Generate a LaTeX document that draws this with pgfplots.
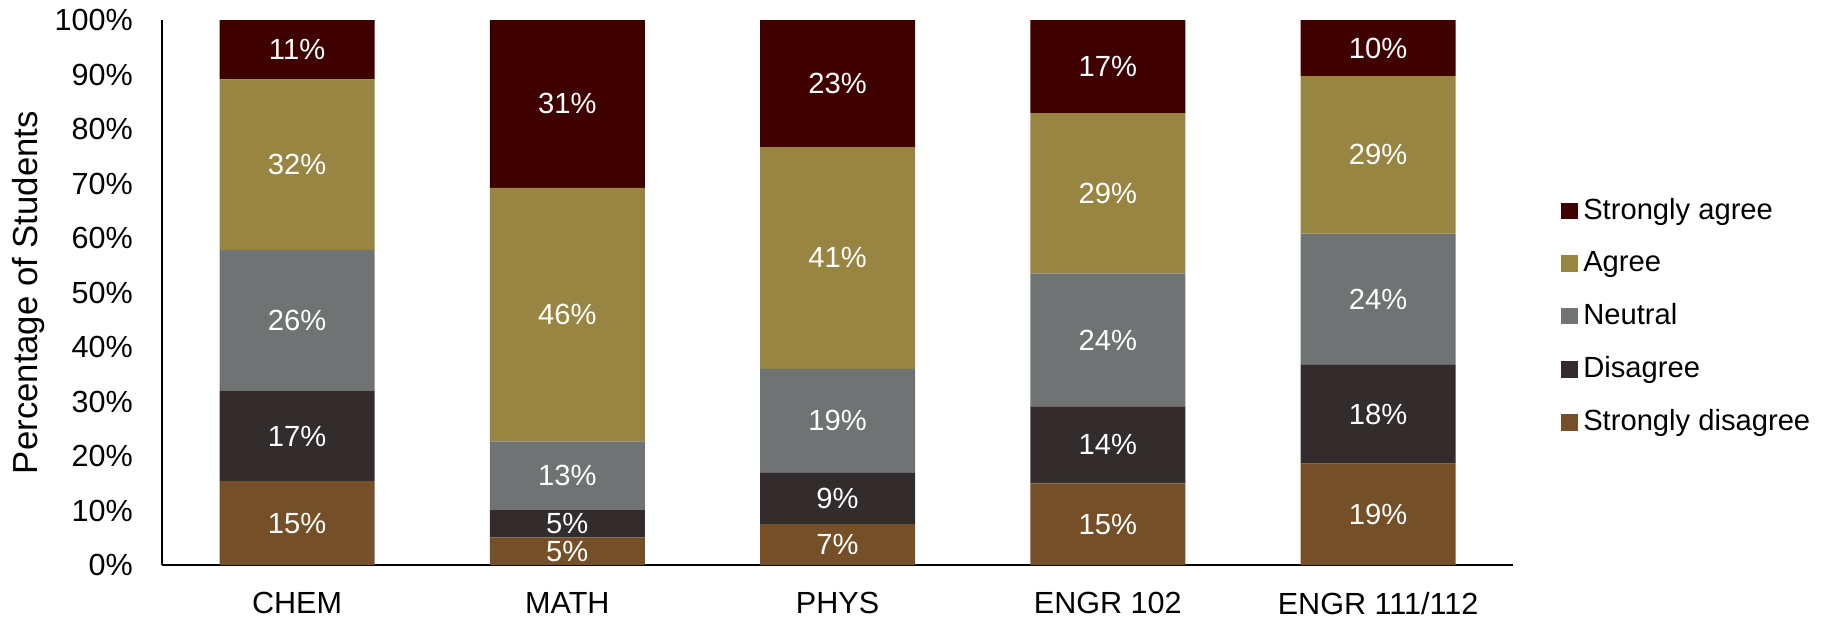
\documentclass[border=0pt]{standalone}
\usepackage{fontspec}
\setmainfont{Liberation Sans}
\usepackage{pgfplots}
\usepackage{pgfplotstable}
\pgfplotsset{compat=1.18}

\definecolor{sagree}{HTML}{3F0000}
\definecolor{agree}{HTML}{998542}
\definecolor{neutral}{HTML}{707373}
\definecolor{disagree}{HTML}{332C2C}
\definecolor{sdisagree}{HTML}{744F28}

% segment heights (percent) and the rounded labels
\pgfplotstableread{
x sd   sdl d    dl n    nl a    al sa   sal
0 15.4 15  16.5 17 25.9 26 31.3 32 10.9 11
1 5.1  5   5.0  5  12.6 13 46.5 46 30.8 31
2 7.5  7   9.4  9  19.1 19 40.7 41 23.3 23
3 15.0 15  14.1 14 24.4 24 29.4 29 17.1 17
4 18.6 19  18.2 18 24.0 24 28.9 29 10.3 10
}\survey

\pgfplotsset{
  seg/.style={fill=#1, draw=none},
}

\begin{document}
\begin{tikzpicture}
\begin{axis}[
    at={(0,0)}, anchor=south west,
    scale only axis,
    width=486.4pt, height=196.2pt,
    ybar stacked,
    bar width=55.8pt,
    xmin=-0.5, xmax=4.5,
    ymin=0, ymax=100,
    axis x line*=bottom,
    axis y line*=left,
    axis line style={line width=0.8pt, -},
    major tick length=0pt,
    xtick=data,
    xticklabels={CHEM, MATH, PHYS, ENGR 102, ENGR 111/112},
    ytick={0,10,...,100},
    yticklabel={\pgfmathprintnumber{\tick}\%},
    /pgf/number format/assume math mode=true,
    ticklabel style={font=\fontsize{11}{13}\selectfont},
    yticklabel style={xshift=-7pt},
    xticklabel style={yshift=-6.3pt},
    ylabel={Percentage of Students},
    every axis y label/.style={at={(axis description cs:-0.099,0.5)}, rotate=90, anchor=center,
        font=\fontsize{12.5}{15}\selectfont},
    point meta=explicit symbolic,
    nodes near coords={\pgfplotspointmeta\%},
    every node near coord/.append style={anchor=center, text=white,
        font=\fontsize{10.5}{12}\selectfont},
    reverse legend,
    legend cell align=left,
    legend style={at={(axis description cs:1.035,0.684)}, anchor=north west, draw=none,
        font=\fontsize{10.5}{12}\selectfont, row sep=6pt, inner sep=0pt},
    legend image code/.code={\fill[#1] (0pt,-3pt) rectangle (6pt,3pt);},
]
\addplot[seg=sdisagree] table[x=x, y=sd, meta=sdl] {\survey};
\addplot[seg=disagree] table[x=x, y=d, meta=dl] {\survey};
\addplot[seg=neutral] table[x=x, y=n, meta=nl] {\survey};
\addplot[seg=agree] table[x=x, y=a, meta=al] {\survey};
\addplot[seg=sagree] table[x=x, y=sa, meta=sal] {\survey};
\legend{Strongly disagree, Disagree, Neutral, Agree, Strongly agree}
\end{axis}
\pgfresetboundingbox
\path (-58.3pt,-19.8pt) rectangle (600.8pt,203.4pt);
\end{tikzpicture}
\end{document}
